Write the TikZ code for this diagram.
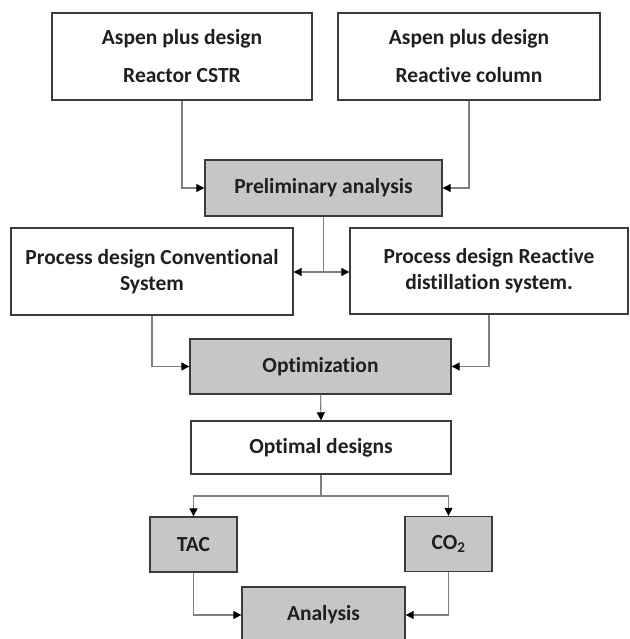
\documentclass[tikz,border=0pt]{standalone}
\usepackage{fontspec}
\setmainfont{Carlito}[Ligatures=NoCommon]
\usetikzlibrary{arrows.meta,positioning}
\definecolor{boxline}{HTML}{3C3C3C}
\definecolor{boxfill}{HTML}{C6C6C6}
\definecolor{wire}{HTML}{808080}

\begin{document}
\begin{tikzpicture}[x=1pt, y=-1pt,
  every node/.style={font=\fontsize{21.5}{26}\selectfont\bfseries, text=black!88},
  plainbox/.style={draw=boxline, line width=1.4pt, fill=white, inner sep=0pt, align=center},
  greybox/.style={plainbox, fill=boxfill},
  tall/.style={font=\fontsize{21.5}{38}\selectfont\bfseries},
  wire/.style={draw=wire, line width=1.1pt},
  conn/.style={wire, -{Triangle[length=8pt, width=8pt, color=black]}}
]
  \useasboundingbox (0,0) rectangle (629,639);
  \clip (0,0) rectangle (629,639);

  % Aspen models
  \node[plainbox, tall, minimum width=260pt, minimum height=87pt] (cstr) at (182,56.5)
    {Aspen plus design\\Reactor CSTR};
  \node[plainbox, tall, minimum width=262pt, minimum height=87pt] (column) at (469,56.5)
    {Aspen plus design\\Reactive column};

  \node[greybox, minimum width=237pt, minimum height=56pt] (prelim) at (323.5,188)
    {Preliminary analysis};

  % Process designs
  \node[plainbox, minimum width=282pt, minimum height=87pt] (conv) at (152,271.5)
    {Process design Conventional\\System};
  \node[plainbox, minimum width=278pt, minimum height=86pt] (rdist) at (489,271)
    {Process design Reactive\\distillation system.};

  \node[greybox, minimum width=261pt, minimum height=55pt] (optim) at (320.5,366.5)
    {Optimization};
  \node[plainbox, minimum width=260pt, minimum height=53pt] (optdes) at (321,447.5)
    {Optimal designs};

  % Criteria
  \node[greybox, minimum width=87pt, minimum height=55pt] (tac) at (193.5,544.5) {TAC};
  \node[greybox, minimum width=87pt, minimum height=55pt] (co2) at (448.5,544)
    {CO\textsubscript{2}};
  \node[greybox, minimum width=163pt, minimum height=56pt] (anal) at (323.5,615)
    {Analysis};

  % Connectors
  \draw[conn] (cstr.south) |- (prelim.west);
  \draw[conn] (column.south) |- (prelim.east);

  \coordinate (split) at (prelim.south |- 0,272);
  \draw[wire] (prelim.south) -- (split);
  \draw[conn] (split) -- (conv.east |- split);
  \draw[conn] (split) -- (rdist.west |- split);

  \draw[conn] (conv.south) |- (optim.west);
  \draw[conn] (rdist.south) |- (optim.east);
  \draw[conn] (optim.south) -- (optdes.north);

  \coordinate (fork) at (optdes.south |- 0,496);
  \draw[wire] (optdes.south) -- (fork);
  \draw[conn] (fork) -| (tac.north);
  \draw[conn] (fork) -| (co2.north);

  \draw[conn] (tac.south) |- (anal.west);
  \draw[conn] (co2.south) |- (anal.east);
\end{tikzpicture}
\end{document}
